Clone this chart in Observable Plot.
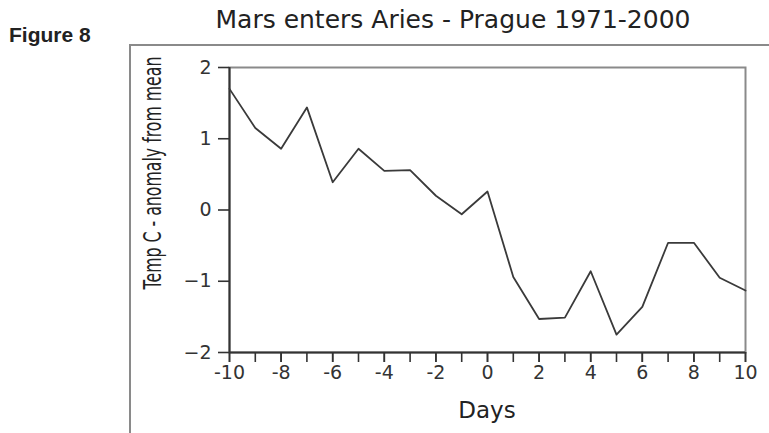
<!DOCTYPE html>
<html>
<head>
<meta charset="utf-8">
<script src="https://cdn.jsdelivr.net/npm/d3@7"></script>
<script src="https://cdn.jsdelivr.net/npm/@observablehq/plot@0.6"></script>
<style>
  html, body { margin: 0; padding: 0; background: #fff; }
  #chart { position: relative; width: 769px; height: 433px; overflow: hidden; }
  #chart svg { position: absolute; left: 0; top: 0; }
</style>
</head>
<body>
<div id="chart"></div>
<script>
const days = [-10, -9, -8, -7, -6, -5, -4, -3, -2, -1, 0, 1, 2, 3, 4, 5, 6, 7, 8, 9, 10];
const anomaly = [1.70, 1.15, 0.86, 1.44, 0.39, 0.86, 0.55, 0.56, 0.20, -0.06, 0.26, -0.94, -1.53, -1.51, -0.86, -1.75, -1.36, -0.46, -0.46, -0.95, -1.13];
const xTickLabels = [-10, -8, -6, -4, -2, 0, 2, 4, 6, 8, 10];
const yTicks = [-2, -1, 0, 1, 2];
const titleText = "Mars enters Aries - Prague 1971-2000";
const figureText = "Figure 8";
const xLabel = "Days";
const yLabel = "Temp C - anomaly from mean";

const data = days.map((d, i) => ({day: d, value: anomaly[i]}));

const plot = Plot.plot({
  width: 769,
  height: 433,
  marginLeft: 229,
  marginRight: 24,
  marginTop: 67,
  marginBottom: 81,
  style: {fontFamily: "DejaVu Sans", fontSize: "19px", color: "#333", background: "transparent", overflow: "visible"},
  x: {domain: [-10, 10]},
  y: {domain: [-2, 2]},
  marks: [
    Plot.frame({stroke: "#8a8a8a", strokeWidth: 2}),
    Plot.axisX({ticks: days, tickSize: 10, tickFormat: () => "", label: null, strokeWidth: 1.6}),
    Plot.axisX({ticks: xTickLabels, tickSize: 10, tickPadding: 3, fontSize: 19, tickFormat: d => String(d), label: null, strokeWidth: 1.6}),
    Plot.axisY({ticks: yTicks, tickSize: 11, tickPadding: 7, fontSize: 19, label: null, strokeWidth: 1.6,
      tickFormat: d => (d < 0 ? "\u2212" + Math.abs(d) : String(d))}),
    Plot.ruleX([-10], {stroke: "#333", strokeWidth: 2}),
    Plot.ruleY([-2], {stroke: "#333", strokeWidth: 2}),
    Plot.line(data, {x: "day", y: "value", stroke: "#3a3a3a", strokeWidth: 1.8})
  ]
});
document.getElementById("chart").appendChild(plot);

const svg = d3.select(plot);
// outer figure border (left and top)
svg.append("line").attr("x1", 130).attr("y1", 45).attr("x2", 769).attr("y2", 45)
  .attr("stroke", "#8a8a8a").attr("stroke-width", 2);
svg.append("line").attr("x1", 130).attr("y1", 44).attr("x2", 130).attr("y2", 433)
  .attr("stroke", "#8a8a8a").attr("stroke-width", 2);

svg.append("text").attr("x", 453).attr("y", 28).attr("text-anchor", "middle")
  .attr("font-family", "DejaVu Sans").attr("font-size", 25).attr("fill", "#222")
  .text(titleText);
svg.append("text").attr("x", 9).attr("y", 42).attr("text-anchor", "start")
  .attr("font-family", "Liberation Sans, Arial, sans-serif").attr("font-weight", "bold")
  .attr("font-size", 21).attr("fill", "#222")
  .text(figureText);
svg.append("text").attr("x", 487).attr("y", 418).attr("text-anchor", "middle")
  .attr("font-family", "DejaVu Sans").attr("font-size", 23).attr("fill", "#222")
  .text(xLabel);
svg.append("text").attr("transform", "translate(161,173) rotate(-90) scale(0.63,1)").attr("text-anchor", "middle")
  .attr("font-family", "DejaVu Sans").attr("font-size", 25).attr("fill", "#222")
  .text(yLabel);
</script>
</body>
</html>
